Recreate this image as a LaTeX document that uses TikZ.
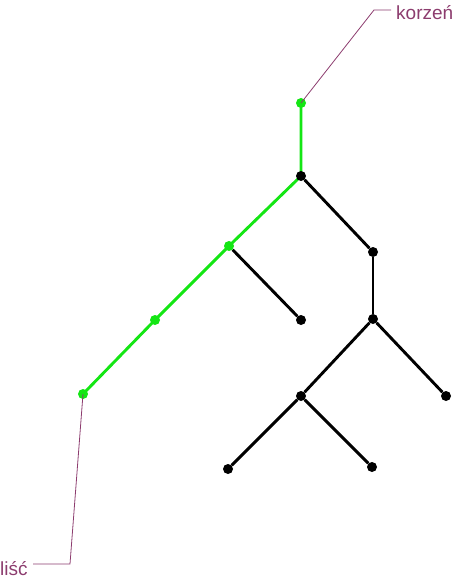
\documentclass[tikz,border=0pt]{standalone}
\usepackage{fontspec}
\setmainfont{Liberation Sans}
\usetikzlibrary{backgrounds}
\definecolor{leafgreen}{RGB}{20,230,20}
\definecolor{labelpurple}{RGB}{140,60,110}
\tikzset{
	dot/.style={circle, fill=black, inner sep=0pt, minimum size=10pt},
	gdot/.style={dot, fill=leafgreen},
	edge/.style={line width=2.9pt, black},
	gedge/.style={edge, leafgreen},
	lbl/.style={labelpurple, inner sep=0pt, anchor=base west, font=\fontsize{19}{21}\selectfont},
	pointer/.style={labelpurple, line width=0.8pt}
}
\begin{document}
\begin{tikzpicture}[x=1pt, y=-1pt]
	\useasboundingbox (0,0) rectangle (453,580);
	
	% tree nodes
	\node[gdot] (r) at (301,103) {};
	\node[dot]  (a) at (301,176) {};
	\node[gdot] (b) at (229,246) {};
	\node[gdot] (c) at (155,320) {};
	\node[gdot] (d) at (83,394) {};
	\node[dot]  (e) at (301,320) {};
	\node[dot]  (f) at (373,252) {};
	\node[dot]  (g) at (373,319) {};
	\node[dot]  (h) at (301,396) {};
	\node[dot]  (i) at (446,396) {};
	\node[dot]  (j) at (228,469) {};
	\node[dot]  (k) at (372,467) {};
	
	\begin{scope}[on background layer]
		\draw[gedge] (r.center)--(a.center)--(b.center)--(c.center)--(d.center);
		\draw[edge] (b)--(e);
		\draw[edge] (a)--(f);
		\draw[edge] (f)--(g);
		\draw[edge] (g)--(h);
		\draw[edge] (g)--(i);
		\draw[edge] (h)--(j);
		\draw[edge] (h)--(k);
	\end{scope}
	
	% labels
	\node[lbl] (root) at (396,20) {korzeń};
	\node[lbl] (leaf) at (0,575) {liść};
	\coordinate (rbend) at (374,10);
	\coordinate (rend) at (391,10);
	\coordinate (lbend) at (70,564);
	\coordinate (lend) at (33,564);
	\draw[pointer] (r.center)--(rbend)--(rend);
	\draw[pointer] (d.center)--(lbend)--(lend);
	
\end{tikzpicture}
\end{document}
